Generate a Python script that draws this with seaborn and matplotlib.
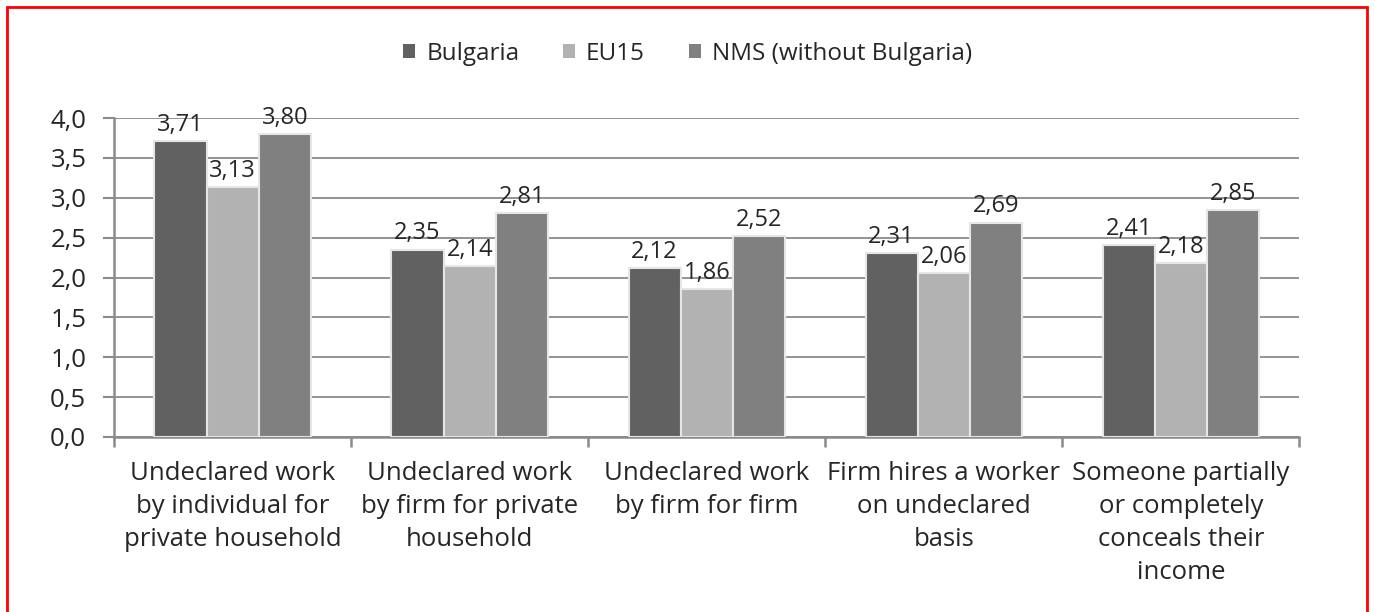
import pandas as pd
import matplotlib.pyplot as plt
import seaborn as sns
from matplotlib.patches import Rectangle
from matplotlib.ticker import FuncFormatter, FixedLocator

# 数据
categories = ['Undeclared work\nby individual for\nprivate household',
              'Undeclared work\nby firm for private\nhousehold',
              'Undeclared work\nby firm for firm',
              'Firm hires a worker\non undeclared\nbasis',
              'Someone partially\nor completely\nconceals their\nincome']
series = ['Bulgaria', 'EU15', 'NMS (without Bulgaria)']
bulgaria = [3.71, 2.35, 2.12, 2.31, 2.41]
eu15 = [3.13, 2.14, 1.86, 2.06, 2.18]
nms = [3.80, 2.81, 2.52, 2.69, 2.85]

df = pd.DataFrame({
    'category': categories * 3,
    'series': [series[0]] * 5 + [series[1]] * 5 + [series[2]] * 5,
    'value': bulgaria + eu15 + nms,
})

sns.set_theme(style="white")
plt.rcParams['font.family'] = ['Open Sans', 'DejaVu Sans']

fig = plt.figure(figsize=(13.75, 6.12), dpi=100)
ax = fig.add_axes([0.083, 0.286, 0.862, 0.521])

palette = ['#616161', '#b2b2b2', '#808080']
sns.barplot(data=df, x='category', y='value', hue='series', palette=palette,
            width=0.66, edgecolor='#e6e6e6', linewidth=1.5, saturation=1,
            ax=ax, zorder=3, legend=True)

# 数值标签
for cont in ax.containers:
    ax.bar_label(cont, labels=[f'{v:.2f}'.replace('.', ',') for v in cont.datavalues],
                 fontsize=17, padding=3, zorder=4)

ax.set_ylim(0, 4.0)
ax.set_xlim(-0.5, 4.5)
ax.set_yticks([i * 0.5 for i in range(9)])
ax.yaxis.set_major_formatter(FuncFormatter(lambda v, p: f'{v:.1f}'.replace('.', ',')))
ax.grid(axis='y', color='#8a8a8a', linewidth=1.3, zorder=0)
ax.set_axisbelow(True)

# x 轴：类别边界刻度 + 类别名
ax.xaxis.set_major_locator(FixedLocator([-0.5, 0.5, 1.5, 2.5, 3.5, 4.5]))
ax.xaxis.set_major_formatter(FuncFormatter(lambda v, p: ''))
ax.xaxis.set_minor_locator(FixedLocator(range(5)))
ax.set_xticklabels(categories, minor=True, linespacing=1.42)
ax.tick_params(axis='x', which='major', length=7, width=1.8, color='#8a8a8a', direction='out', bottom=True)
ax.tick_params(axis='x', which='minor', length=0, labelsize=18.5, pad=17)
ax.tick_params(axis='y', length=8, width=1.5, color='#8a8a8a', direction='out', left=True,
               labelsize=18.5, pad=12)

for side in ['top', 'right']:
    ax.spines[side].set_visible(False)
for side in ['left', 'bottom']:
    ax.spines[side].set_color('#8a8a8a')
    ax.spines[side].set_linewidth(1.8)

ax.set_xlabel('')
ax.set_ylabel('')

handles, labels = ax.get_legend_handles_labels()
ax.get_legend().remove()
for h in handles:
    h.set_edgecolor('none')
fig.legend(handles, labels, loc='center', bbox_to_anchor=(0.5, 1 - 54 / 612), ncol=3,
           frameon=False, fontsize=17.5, handlelength=0.5, handleheight=0.5,
           handletextpad=0.45, columnspacing=1.8)

# 红色边框
fig.patches.append(Rectangle((0.005, -0.01), 0.989, 0.998, transform=fig.transFigure,
                             fill=False, edgecolor='red', linewidth=2))

plt.savefig('out.png', dpi=100)
